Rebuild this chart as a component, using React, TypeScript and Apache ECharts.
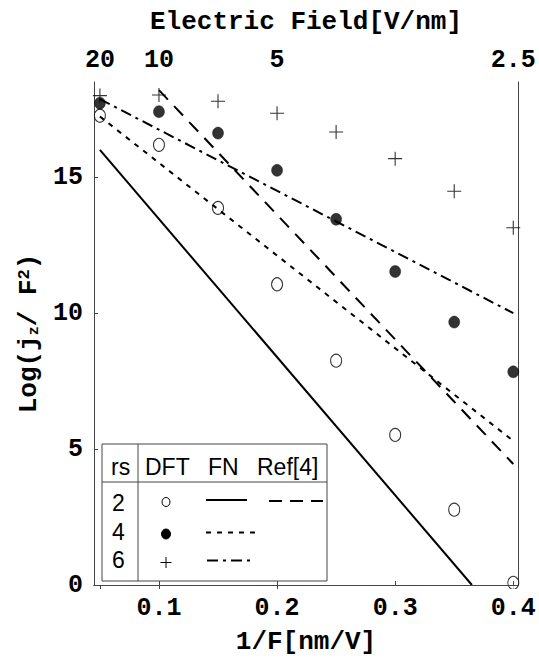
import React, { useEffect, useRef } from "react";
import * as echarts from "echarts";

// 1/F [nm/V] positions of the DFT points
const invField = [0.05, 0.1, 0.15, 0.2, 0.25, 0.3, 0.35, 0.4];
// DFT results, Log(jz/F^2)
const dftRs2 = [17.26, 16.19, 13.87, 11.06, 8.25, 5.52, 2.77, 0.08];
const dftRs4 = [17.72, 17.41, 16.62, 15.25, 13.45, 11.53, 9.67, 7.84];
const dftRs6 = [18.0, 18.02, 17.79, 17.35, 16.66, 15.68, 14.48, 13.14];

// Fowler-Nordheim lines (end points)
const fnRs2X = [0.05, 0.365];
const fnRs2Y = [16.0, 0];
const fnRs4X = [0.05, 0.4];
const fnRs4Y = [17.23, 5.3];
const fnRs6X = [0.05, 0.4];
const fnRs6Y = [17.87, 10.0];
// Ref[4] line for rs = 2
const refRs2X = [0.1, 0.4];
const refRs2Y = [18.2, 4.45];

const bottomTicks = [0.1, 0.2, 0.3, 0.4];
const topTicks = [0.05, 0.1, 0.2, 0.4];
const topTickLabels = ["20", "10", "5", "2.5"];
const yTicks = [0, 5, 10, 15];

const legendHeaders = ["rs", "DFT", "FN", "Ref[4]"];
const legendRs = ["2", "4", "6"];

const X_MIN = 0.045;
const X_MAX = 0.404;
const Y_MIN = 0;
const Y_MAX = 18.5;

const MONO = "'Liberation Mono', 'DejaVu Sans Mono', monospace";
const SANS = "'Liberation Sans', Arial, sans-serif";
const FRAME = "#444";

const zip = (xs: number[], ys: number[]) => xs.map((x, i) => [x, ys[i]]);

const PLUS = "path://M0,7L14,7M7,0L7,14";

export default function App() {
  const ref = useRef<HTMLDivElement>(null);

  useEffect(() => {
    if (!ref.current) return;
    const chart = echarts.init(ref.current, undefined, { renderer: "svg" });

    const tickLabel = {
      fontFamily: MONO,
      fontWeight: "bold" as const,
      fontSize: 25,
      color: "#000",
    };

    const legendX0 = 102;
    const legendY0 = 444;
    const legendW = 225;
    const legendH = 137;
    const headerX = [111, 145, 208, 257];
    const rowY = [503, 532, 560];
    const lineStyleBase = { stroke: "#000", lineWidth: 2 };

    const graphics: any[] = [
      // hides the part of the last open circle that falls below the frame
      {
        type: "rect",
        shape: { x: 504, y: 589, width: 18, height: 8 },
        style: { fill: "#fff" },
        z: 50,
      },
      {
        type: "rect",
        shape: { x: legendX0, y: legendY0, width: legendW, height: legendH },
        style: { fill: "#fff", stroke: FRAME, lineWidth: 1 },
        z: 100,
      },
      {
        type: "line",
        shape: { x1: 138, y1: legendY0, x2: 138, y2: legendY0 + legendH },
        style: { stroke: FRAME, lineWidth: 1 },
        z: 101,
      },
      {
        type: "line",
        shape: { x1: legendX0, y1: 482, x2: legendX0 + legendW, y2: 482 },
        style: { stroke: FRAME, lineWidth: 1 },
        z: 101,
      },
      ...legendHeaders.map((t, i) => ({
        type: "text",
        x: headerX[i],
        y: 467,
        style: {
          text: t,
          font: `23px ${SANS}`,
          fill: "#000",
          verticalAlign: "middle",
        },
        z: 102,
      })),
      ...legendRs.map((t, i) => ({
        type: "text",
        x: 112,
        y: rowY[i],
        style: {
          text: t,
          font: `23px ${SANS}`,
          fill: "#000",
          verticalAlign: "middle",
        },
        z: 102,
      })),
      {
        type: "ellipse",
        shape: { cx: 166, cy: 502, rx: 4, ry: 4.5 },
        style: { fill: "#fff", stroke: "#000", lineWidth: 1 },
        z: 102,
      },
      {
        type: "ellipse",
        shape: { cx: 166, cy: 534, rx: 4.5, ry: 5 },
        style: { fill: "#000", stroke: "#000", lineWidth: 1 },
        z: 102,
      },
      {
        type: "line",
        shape: { x1: 160.5, y1: 562.5, x2: 171.5, y2: 562.5 },
        style: { stroke: "#000", lineWidth: 1 },
        z: 102,
      },
      {
        type: "line",
        shape: { x1: 166, y1: 557, x2: 166, y2: 568 },
        style: { stroke: "#000", lineWidth: 1 },
        z: 102,
      },
      {
        type: "line",
        shape: { x1: 206, y1: 500, x2: 247, y2: 500 },
        style: { ...lineStyleBase },
        z: 102,
      },
      {
        type: "line",
        shape: { x1: 269, y1: 501, x2: 323, y2: 501 },
        style: { ...lineStyleBase, lineDash: [13, 8] },
        z: 102,
      },
      {
        type: "line",
        shape: { x1: 206, y1: 532.5, x2: 256, y2: 532.5 },
        style: { ...lineStyleBase, lineDash: [5, 6] },
        z: 102,
      },
      {
        type: "line",
        shape: { x1: 207, y1: 560.5, x2: 250, y2: 560.5 },
        style: { ...lineStyleBase, lineDash: [11, 5, 3, 5] },
        z: 102,
      },
    ];

    chart.setOption({
      animation: false,
      backgroundColor: "#fff",
      grid: { left: 94, right: 21, top: 82, bottom: 72, containLabel: false },
      xAxis: [
        {
          type: "value",
          position: "bottom",
          min: X_MIN,
          max: X_MAX,
          name: "1/F[nm/V]",
          nameLocation: "middle",
          nameGap: 44,
          nameTextStyle: { ...tickLabel, fontSize: 26 },
          axisLine: { show: true, lineStyle: { color: FRAME, width: 1 } },
          axisTick: {
            show: true,
            inside: true,
            length: 4,
            customValues: bottomTicks,
            lineStyle: { color: FRAME },
          },
          axisLabel: {
            ...tickLabel,
            margin: 11,
            customValues: bottomTicks,
            formatter: (v: number) => v.toFixed(1),
          },
          splitLine: { show: false },
          z: 60,
        },
        {
          type: "value",
          position: "top",
          min: X_MIN,
          max: X_MAX,
          name: "Electric Field[V/nm]",
          nameLocation: "middle",
          nameGap: 47,
          nameTextStyle: { ...tickLabel, fontSize: 26 },
          axisLine: { show: true, lineStyle: { color: FRAME, width: 1 } },
          axisTick: {
            show: true,
            inside: true,
            length: 4,
            customValues: topTicks,
            lineStyle: { color: FRAME },
          },
          axisLabel: {
            ...tickLabel,
            margin: 9,
            customValues: topTicks,
            formatter: (v: number) => {
              const i = topTicks.findIndex((t) => Math.abs(t - v) < 1e-6);
              return i >= 0 ? topTickLabels[i] : "";
            },
          },
          splitLine: { show: false },
        },
      ],
      yAxis: [
        {
          type: "value",
          position: "left",
          min: Y_MIN,
          max: Y_MAX,
          name: "{t|Log(j}{s|z}{t|/ F}{p|2}{t|)}",
          nameLocation: "middle",
          nameGap: 52,
          nameTextStyle: {
            ...tickLabel,
            fontSize: 26,
            rich: {
              t: { fontFamily: MONO, fontWeight: "bold", fontSize: 26, color: "#000" },
              s: {
                fontFamily: MONO,
                fontWeight: "bold",
                fontSize: 15,
                color: "#000",
                verticalAlign: "bottom",
              },
              p: {
                fontFamily: MONO,
                fontWeight: "bold",
                fontSize: 17,
                color: "#000",
                verticalAlign: "top",
              },
            },
          },
          axisLine: { show: true, lineStyle: { color: FRAME, width: 1 } },
          axisTick: {
            show: true,
            inside: true,
            length: 4,
            customValues: yTicks,
            lineStyle: { color: FRAME },
          },
          axisLabel: {
            ...tickLabel,
            margin: 11,
            customValues: yTicks,
          },
          splitLine: { show: false },
        },
        {
          type: "value",
          position: "right",
          min: Y_MIN,
          max: Y_MAX,
          axisLine: { show: true, lineStyle: { color: FRAME, width: 1 } },
          axisTick: { show: false },
          axisLabel: { show: false },
          splitLine: { show: false },
        },
      ],
      series: [
        {
          type: "scatter",
          name: "DFT rs=2",
          data: zip(invField, dftRs2),
          symbol: "circle",
          symbolSize: [11, 13],
          itemStyle: { color: "#fff", borderColor: "#000", borderWidth: 1.1 },
          z: 2,
        },
        {
          type: "scatter",
          name: "DFT rs=4",
          data: zip(invField, dftRs4),
          symbol: "circle",
          symbolSize: [11, 12],
          itemStyle: { color: "#000", borderColor: "#000", borderWidth: 0.5 },
          z: 2,
        },
        {
          type: "scatter",
          name: "DFT rs=6",
          data: zip(invField, dftRs6),
          symbol: PLUS,
          symbolSize: 14,
          itemStyle: { color: "#000", borderColor: "#000", borderWidth: 1.1 },
          z: 2,
        },
        {
          type: "line",
          name: "FN rs=2",
          data: zip(fnRs2X, fnRs2Y),
          showSymbol: false,
          symbol: "none",
          lineStyle: { color: "#000", width: 2, type: "solid" },
          z: 3,
        },
        {
          type: "line",
          name: "FN rs=4",
          data: zip(fnRs4X, fnRs4Y),
          showSymbol: false,
          symbol: "none",
          lineStyle: { color: "#000", width: 2, type: [5, 6] },
          z: 3,
        },
        {
          type: "line",
          name: "FN rs=6",
          data: zip(fnRs6X, fnRs6Y),
          showSymbol: false,
          symbol: "none",
          lineStyle: { color: "#000", width: 2, type: [11, 5, 3, 5] },
          z: 3,
        },
        {
          type: "line",
          name: "Ref[4] rs=2",
          data: zip(refRs2X, refRs2Y),
          showSymbol: false,
          symbol: "none",
          lineStyle: { color: "#000", width: 2, type: [13, 9] },
          z: 3,
        },
      ],
      graphic: graphics,
    });

    return () => chart.dispose();
  }, []);

  return (
    <div
      ref={ref}
      style={{ width: 539, height: 660, position: "absolute", left: 0, top: 0 }}
    />
  );
}
